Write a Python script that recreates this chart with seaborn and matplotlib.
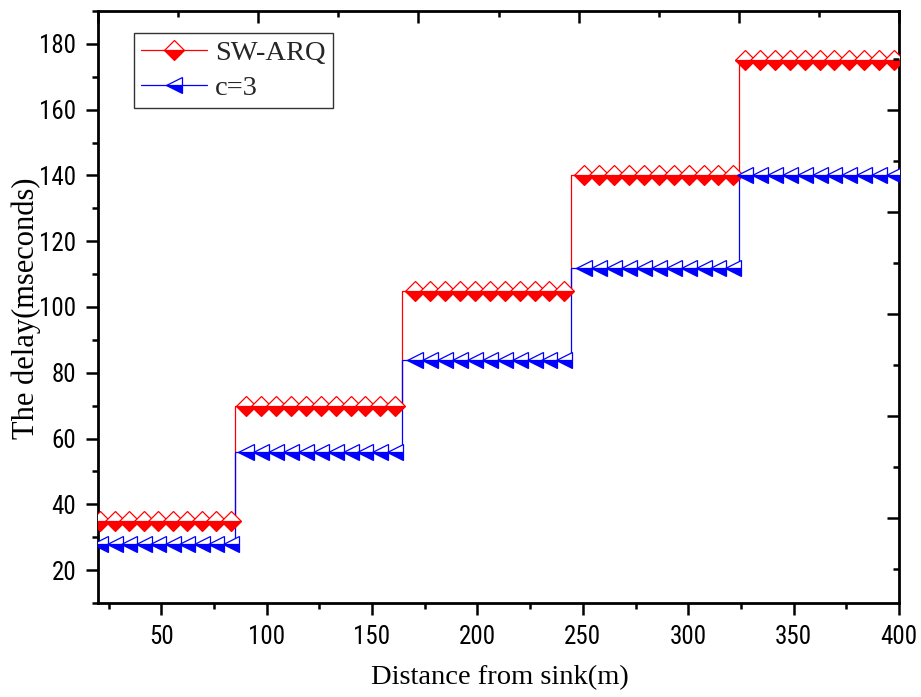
import matplotlib
matplotlib.use("Agg")
import matplotlib.pyplot as plt
from matplotlib.lines import Line2D
from matplotlib.ticker import MultipleLocator, FixedLocator, NullFormatter
from matplotlib import font_manager
import seaborn as sns
import numpy as np
import pandas as pd

# ---------------- data ----------------
# marker positions (distance from sink, m)
distance = [
    21.0, 27.9, 34.8, 41.7, 48.6, 55.4, 62.3, 69.2, 76.1, 83.0,
    90.3, 97.4, 104.4, 111.5, 118.6, 125.7, 132.7, 139.8, 146.9, 153.9, 161.0,
    170.5, 177.6, 184.6, 191.7, 198.8, 205.9, 212.9, 220.0, 227.1, 234.1, 241.2,
    250.7, 257.8, 264.8, 271.9, 279.0, 286.1, 293.1, 300.2, 307.3, 314.3, 321.4,
    326.9, 334.0, 341.0, 348.1, 355.2, 362.3, 369.3, 376.4, 383.5, 390.5, 397.6,
]
segment_sizes = [10, 11, 11, 11, 11]
# delay level of each hop segment (ms)
sw_arq_levels = [35, 70, 105, 140, 175]
c3_levels = [28, 56, 84, 112, 140]
# distances where the delay steps up
jump_distance = [20, 85.2, 164.4, 244.6, 324.0, 400]

series_names = ["SW-ARQ", "c=3"]

sw_arq = np.repeat(sw_arq_levels, segment_sizes)
c3 = np.repeat(c3_levels, segment_sizes)


def step_vertices(levels):
    xs, ys = [], []
    for k, lv in enumerate(levels):
        xs += [jump_distance[k], jump_distance[k + 1]]
        ys += [lv, lv]
    return xs, ys

# ---------------- figure ----------------
sns.set_theme(style="white")
plt.rcParams["font.family"] = ["Liberation Serif", "DejaVu Serif"]

# narrow sans for tick labels if available
installed = {f.name for f in font_manager.fontManager.ttflist}
narrow_candidates = ["Liberation Sans Narrow", "Arial Narrow", "Roboto Condensed",
                     "Open Sans Condensed", "DejaVu Sans Condensed"]
tick_family = next((n for n in narrow_candidates if n in installed), "Liberation Sans")
tick_size = 18 if tick_family != "Liberation Sans" else 17

fig = plt.figure(figsize=(9.21, 6.97), dpi=100)
ax = fig.add_axes([98 / 921, 1 - 603 / 697, (899 - 98) / 921, (603 - 11) / 697])

red = "#FF0000"
blue = "#0000FF"
D_MS = 10.2
T_MS = 11.5

# step lines
for levels, col in [(sw_arq_levels, red), (c3_levels, blue)]:
    sx, sy = step_vertices(levels)
    df = pd.DataFrame({"x": sx, "y": sy})
    sns.lineplot(data=df, x="x", y="y", ax=ax, color=col, lw=0.9,
                 sort=False, estimator=None, zorder=2)

# markers
mk_common = dict(lw=0, fillstyle="bottom", markerfacecoloralt="white",
                 markeredgewidth=0.9, zorder=3, estimator=None)
sns.lineplot(x=distance, y=sw_arq, ax=ax, color=red, marker="D", ms=D_MS,
             markeredgecolor=red, markerfacecolor=red, **mk_common)
sns.lineplot(x=distance, y=c3, ax=ax, color=blue, marker="<", ms=T_MS,
             markeredgecolor=blue, markerfacecolor=blue, **mk_common)

# axes limits / ticks
ax.set_xlim(20, 400)
ax.set_ylim(10, 190)
ax.xaxis.set_major_locator(MultipleLocator(50))
ax.xaxis.set_minor_locator(MultipleLocator(25))
ax.yaxis.set_major_locator(MultipleLocator(20))
ax.yaxis.set_minor_locator(MultipleLocator(10))

ax.tick_params(which="major", direction="out", length=8.6, width=1.8,
               pad=7, labelsize=tick_size, color="black", labelcolor="black")
ax.tick_params(which="minor", direction="out", length=4.3, width=1.8,
               color="black")
ax.tick_params(axis="both", which="both", bottom=True, left=True,
               top=False, right=False)
for lab in ax.get_xticklabels() + ax.get_yticklabels():
    lab.set_family([tick_family, "Liberation Sans", "DejaVu Sans"])

for sp in ax.spines.values():
    sp.set_linewidth(2.0)
    sp.set_color("black")

ax.set_xlabel("Distance from sink(m)", fontsize=20.5, color="black")
ax.set_ylabel("The delay(mseconds)", fontsize=22, color="black")
ax.xaxis.set_label_coords((500 - 98) / 801, -(678 - 603) / 592)
ax.yaxis.set_label_coords(-(98 - 26) / 801, (603 - 308) / 592)
ax.xaxis.label.set_va("center")
ax.yaxis.label.set_va("center")

# Origin-style independent top / right tick marks (inward, unlabeled)
axt = ax.twiny()
axt.set_xlim(0, 10)
axt.xaxis.set_major_locator(FixedLocator([0, 2, 4, 6, 8, 10]))
axt.xaxis.set_minor_locator(FixedLocator([1, 3, 5, 7, 9]))
axt.xaxis.set_major_formatter(NullFormatter())
axt.tick_params(which="major", direction="in", length=8.6, width=1.8, top=True, color="black")
axt.tick_params(which="minor", direction="in", length=4.3, width=1.8, top=True, color="black")
axr = ax.twinx()
axr.set_ylim(0.333, 11.94)
axr.yaxis.set_major_locator(FixedLocator([2, 4, 6, 8, 10]))
axr.yaxis.set_minor_locator(FixedLocator([1, 3, 5, 7, 9, 11]))
axr.yaxis.set_major_formatter(NullFormatter())
axr.tick_params(which="major", direction="in", length=8.6, width=1.8, right=True, color="black")
axr.tick_params(which="minor", direction="in", length=4.3, width=1.8, right=True, color="black")
for a in (axt, axr):
    for sp in a.spines.values():
        sp.set_visible(False)

# legend
handles = [
    Line2D([], [], color=red, lw=0.9, marker="D", ms=D_MS, fillstyle="bottom",
           markerfacecoloralt="white", markeredgecolor=red, markeredgewidth=0.9),
    Line2D([], [], color=blue, lw=0.9, marker="<", ms=T_MS, fillstyle="bottom",
           markerfacecoloralt="white", markeredgecolor=blue, markeredgewidth=0.9),
]
leg = ax.legend(handles, series_names, loc="upper left",
                bbox_to_anchor=((134 - 98) / 801, (603 - 33) / 592),
                frameon=True, fancybox=False, shadow=False, fontsize=20.5,
                handlelength=2.3, handletextpad=0.3, borderpad=0.25,
                labelspacing=0.3, borderaxespad=0, numpoints=1)
leg.get_frame().set_edgecolor("black")
leg.get_frame().set_linewidth(1.0)
leg.set_zorder(10)

fig.savefig("out.png", dpi=100)
